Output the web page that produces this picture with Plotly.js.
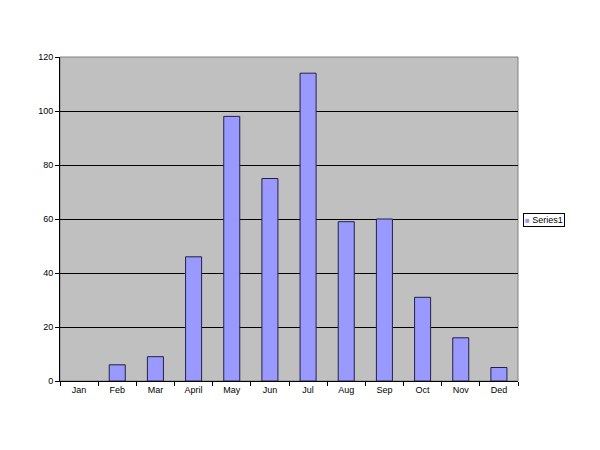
<!DOCTYPE html>
<html>
<head>
<meta charset="utf-8">
<script src="https://cdn.plot.ly/plotly-3.0.1.min.js"></script>
<style>
  html, body { margin: 0; padding: 0; background: #fff; }
  #chart { width: 600px; height: 450px; }
</style>
</head>
<body>
<div id="chart"></div>
<script>
// month labels as written on the original chart
const months = ['Jan', 'Feb', 'Mar', 'April', 'May', 'Jun', 'Jul', 'Aug', 'Sep', 'Oct', 'Nov', 'Ded'];
const series1 = [0, 6, 9, 46, 98, 75, 114, 59, 60, 31, 16, 5];
const yTicks = [0, 20, 40, 60, 80, 100, 120];
const seriesName = 'Series1';
const barColor = '#9999FF';

const trace = {
    x: months,
    y: series1,
    type: 'bar',
    name: seriesName,
    // no outline on an empty bar, like excel
    marker: { color: barColor, line: { color: '#222244', width: series1.map(v => v > 0 ? 1 : 0) } },
    hoverinfo: 'none'
};

const layout = {
    width: 600,
    height: 450,
    margin: { l: 60, r: 82, t: 57, b: 69 },
    paper_bgcolor: '#ffffff',
    plot_bgcolor: '#C0C0C0',
    font: { family: 'Liberation Sans, Arial, sans-serif', size: 10, color: '#000' },
    bargap: 0.58,
    showlegend: false,
    xaxis: {
        type: 'category',
        tickson: 'boundaries',
        ticks: 'outside', ticklen: 4, tickcolor: '#000',
        showline: true, linecolor: '#000', linewidth: 1,
        showgrid: false, zeroline: false,
        tickfont: { size: 9 }
    },
    yaxis: {
        range: [0, 120],
        tickvals: yTicks,
        ticks: 'outside', ticklen: 4, tickcolor: '#000',
        showline: true, linecolor: '#000', linewidth: 1,
        showgrid: true, gridcolor: '#000', gridwidth: 1,
        zeroline: false,
        tickfont: { size: 9 }
    },
    shapes: [{
        type: 'rect', xref: 'paper', yref: 'paper',
        x0: 0, x1: 1, y0: 0, y1: 1,
        line: { color: '#808080', width: 1 },
        layer: 'below'
    }],
    // compact excel-style legend box
    annotations: [{
        xref: 'paper', yref: 'paper',
        x: 1.012, y: 0.497, xanchor: 'left', yanchor: 'middle',
        showarrow: false,
        text: '<span style="color:' + barColor + ';font-size:8px">■</span> ' + seriesName,
        font: { size: 9, color: '#000' },
        bgcolor: '#ffffff', bordercolor: '#000', borderwidth: 1, borderpad: 1
    }]
};

Plotly.newPlot('chart', [trace], layout, { displayModeBar: false, staticPlot: true });
</script>
</body>
</html>
